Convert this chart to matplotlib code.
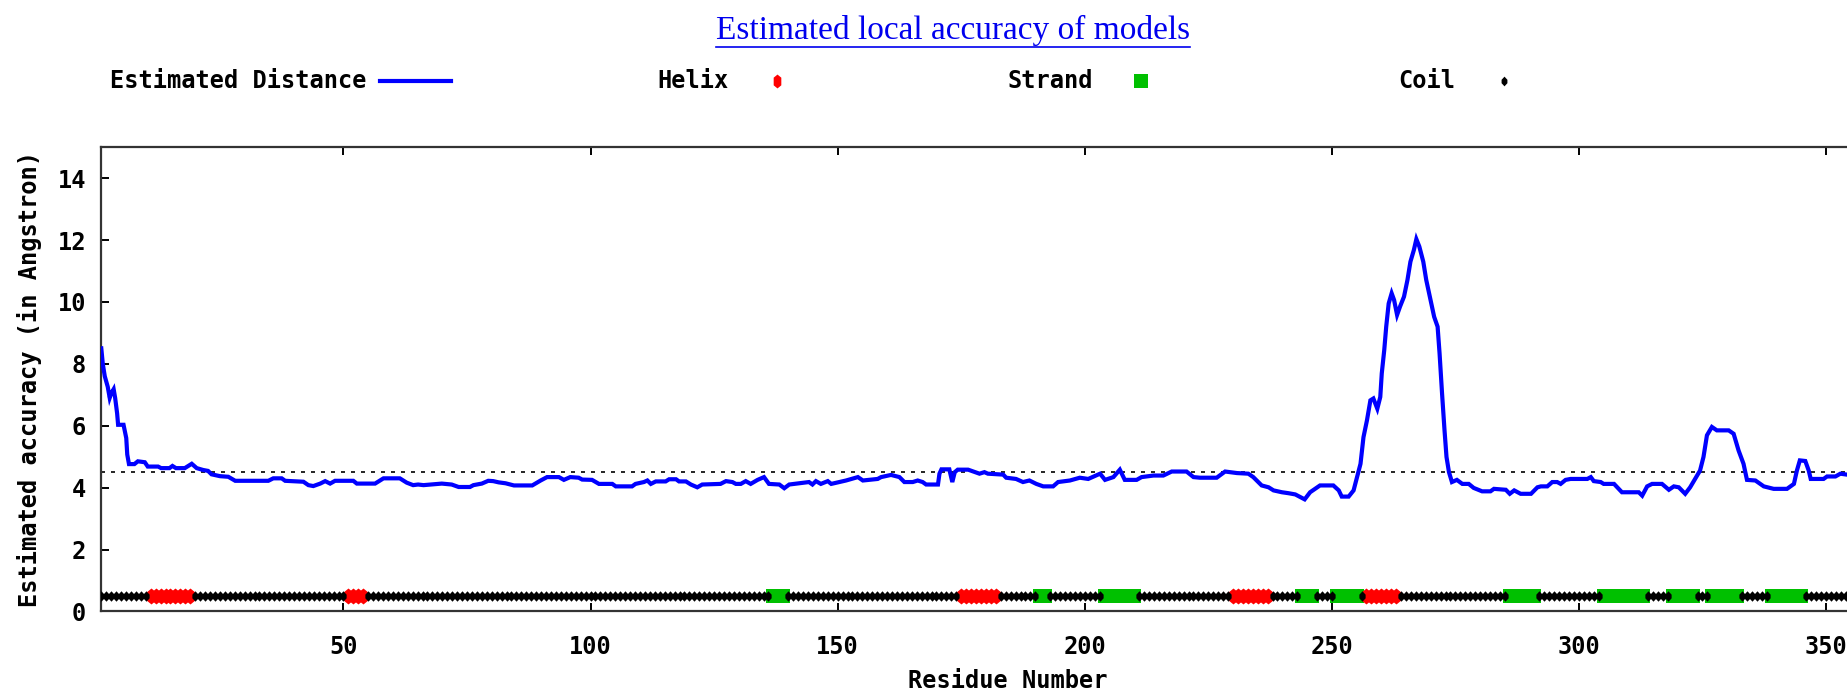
import numpy as np
import matplotlib.pyplot as plt
from matplotlib.path import Path

# estimated distance per residue
residue = [1, 1.3, 1.7, 2.3, 2.7, 3.0, 3.5, 3.8, 4.2, 4.4, 5.5, 6.05, 6.25, 6.6, 7.7, 8.4, 9.8, 10.4,
           12.5, 13.1, 14.8, 15.4, 16.1, 17.9, 19.3, 20.3, 21.6, 22.6, 23.3, 25, 26.7, 28.1, 34.8,
           35.8, 37.5, 38.2, 41.9, 42.9, 43.9, 45.3, 46.3, 47.3, 48.3, 52, 52.7, 56.4, 58.1, 61.4,
           62.8, 64.1, 65.1, 66.2, 69.9, 71.9, 73.3, 75.6, 76.3, 78, 79.3, 80.3, 81.4, 82.8, 84.5,
           88.2, 89.9, 91.2, 93.6, 94.6, 95.9, 97.6, 98.3, 100.3, 101.7, 104.4, 105.1, 108.4, 109.1,
           110.8, 111.5, 112.2, 113.2, 115.2, 115.9, 117.3, 117.9, 119.3, 120.3, 121.6, 122.6, 126.3,
           127.4, 128.7, 129.4, 130.4, 131.4, 132.4, 133.8, 135.1, 136.1, 138.2, 139.2, 140.2, 144.2,
           144.9, 145.6, 146.6, 148, 148.7, 151.7, 154.1, 155.1, 158.1, 158.8, 160.8, 162.5, 163.5,
           165.2, 166.2, 167.2, 167.9, 170.3, 170.6, 171, 172.6, 173.2, 173.7, 174.3, 176.4, 178.7,
           179.7, 180.4, 183.5, 184.1, 186.1, 187.5, 188.8, 190.2, 191.6, 193.6, 194.6, 197, 199,
           200.7, 203.1, 204.1, 205.8, 207.1, 208.1, 210.5, 211.5, 213.9, 215.9, 217.6, 220.6, 222,
           223.3, 226.7, 228.4, 230.8, 233.1, 234.1, 235.8, 237.2, 238.2, 239.9, 241.2, 242.6, 244.5,
           245.6, 246.6, 247.6, 250.3, 251.4, 252, 253.4, 254.4, 255.1, 255.8, 256.4, 257.1, 257.8,
           258.4, 259.2, 259.8, 260.1, 260.6, 261, 261.5, 262.1, 262.6, 263.2, 263.8, 264.6, 265.3,
           265.9, 266.6, 267.1, 267.7, 268.5, 269.1, 269.9, 270.7, 271.4, 271.8, 272.3, 272.8, 273.2,
           273.7, 274.3, 275.3, 276.4, 277.7, 278.7, 280.4, 282.1, 282.8, 285.2, 286, 286.9, 288.2,
           290.3, 291.6, 292.3, 293.6, 294.6, 295.6, 296.3, 297.3, 298.3, 301.7, 302.4, 303, 304.4,
           305, 307.1, 308.7, 309.7, 312.1, 312.8, 313.8, 314.8, 316.8, 318.2, 319.2, 320.2, 321.5,
           322.5, 323.5, 324.5, 325.2, 325.9, 326.9, 327.9, 330.3, 331.3, 332.3, 333.3, 334, 335.7,
           337.4, 339.4, 342.1, 343.5, 344.1, 344.7, 345.8, 346.5, 346.9, 349.5, 350.2, 351.9, 352.9,
           354.2, 356]
distance = [8.5, 8.0, 7.6, 7.26, 6.9, 7.04, 7.18, 6.9, 6.4, 6.03, 6.03, 5.6, 5.07, 4.76, 4.76, 4.85, 4.82, 4.68,
            4.68, 4.63, 4.63, 4.7, 4.63, 4.63, 4.77, 4.63, 4.57, 4.54, 4.43, 4.37, 4.35, 4.22, 4.22,
            4.3, 4.3, 4.22, 4.19, 4.08, 4.05, 4.13, 4.21, 4.13, 4.22, 4.22, 4.13, 4.13, 4.3, 4.3,
            4.16, 4.08, 4.1, 4.08, 4.13, 4.1, 4.02, 4.02, 4.08, 4.13, 4.22, 4.21, 4.17, 4.14, 4.07,
            4.07, 4.23, 4.34, 4.34, 4.25, 4.34, 4.32, 4.26, 4.25, 4.12, 4.12, 4.04, 4.04, 4.12,
            4.18, 4.23, 4.12, 4.2, 4.2, 4.27, 4.27, 4.2, 4.2, 4.1, 4.01, 4.1, 4.12,
            4.21, 4.18, 4.12, 4.12, 4.21, 4.12, 4.25, 4.34, 4.12, 4.1, 3.98, 4.1, 4.18,
            4.1, 4.21, 4.12, 4.21, 4.12, 4.23, 4.34, 4.23, 4.28, 4.34, 4.41, 4.34, 4.18,
            4.18, 4.23, 4.18, 4.1, 4.1, 4.45, 4.59, 4.59, 4.18, 4.5, 4.58, 4.58, 4.45,
            4.5, 4.45, 4.42, 4.32, 4.28, 4.18, 4.23, 4.12, 4.04, 4.04, 4.18, 4.23, 4.32,
            4.28, 4.45, 4.25, 4.34, 4.58, 4.25, 4.25, 4.34, 4.39, 4.39, 4.52, 4.52, 4.34,
            4.32, 4.32, 4.52, 4.47, 4.45, 4.34, 4.07, 4.01, 3.91, 3.85, 3.82, 3.78, 3.62,
            3.85, 3.96, 4.07, 4.07, 3.91, 3.71, 3.71, 3.91, 4.34, 4.77, 5.63, 6.17, 6.82,
            6.88, 6.55, 6.93, 7.69, 8.44, 9.2, 9.95, 10.28, 10.06, 9.58, 9.85, 10.17, 10.71,
            11.3, 11.68, 12.03, 11.79, 11.3, 10.71, 10.12, 9.52, 9.2, 8.33, 7.04, 5.85, 4.99,
            4.5, 4.18, 4.25, 4.12, 4.12, 3.99, 3.88, 3.88, 3.96, 3.93, 3.8, 3.91, 3.8,
            3.8, 4.01, 4.04, 4.04, 4.18, 4.18, 4.12, 4.25, 4.28, 4.28, 4.34, 4.21, 4.18,
            4.12, 4.12, 3.85, 3.85, 3.85, 3.74, 4.04, 4.12, 4.12, 3.93, 4.04, 4.01, 3.8,
            4.01, 4.28, 4.55, 4.99, 5.69, 5.96, 5.85, 5.85, 5.74, 5.2, 4.77, 4.25, 4.23,
            4.04, 3.96, 3.96, 4.12, 4.55, 4.88, 4.86, 4.55, 4.28, 4.28, 4.36, 4.36, 4.45,
            4.42, 4.42]
cutoff = 4.5

# secondary structure (residue ranges)
n_residues = 356
helix_ranges = [(11, 19), (51, 54), (175, 182), (230, 237), (257, 263)]
strand_ranges = [(137, 139), (191, 192), (204, 210), (244, 246), (251, 255),
                 (286, 291), (305, 313), (319, 323), (327, 332), (339, 345)]

ss = np.array(["C"] * n_residues)
for a, b in helix_ranges:
    ss[a - 1:b] = "H"
for a, b in strand_ranges:
    ss[a - 1:b] = "E"
pos = np.arange(1, n_residues + 1)

# gnuplot-like point shapes
hexa = Path([(0, 1), (0.55, 0.55), (0.55, -0.55), (0, -1), (-0.55, -0.55), (-0.55, 0.55), (0, 1)],
            closed=True)
coil_pt = Path([(0, 1), (0.6, 0.35), (0.6, -0.35), (0, -1), (-0.6, -0.35), (-0.6, 0.35), (0, 1)],
               closed=True)

font = "DejaVu Sans Mono"
fs = 17

fig = plt.figure(figsize=(18.47, 6.91), dpi=100)
W, H = 1847, 691
left, right, top, bottom = 101.3, 1915, 147.2, 611.4
ax = fig.add_axes([left / W, (H - bottom) / H, (right - left) / W, (bottom - top) / H])

ax.plot(residue, distance, color="#0000FF", lw=3.0, zorder=3, solid_joinstyle="miter")
ax.axhline(cutoff, color="black", lw=1.2, ls=(0, (2.4, 3.6)), zorder=2)

y_ss = 0.5
ax.plot(pos[ss == "E"], np.full((ss == "E").sum(), y_ss), ls="none", marker="s", ms=10,
        color="#00C000", mew=0, zorder=4)
ax.plot(pos[ss == "H"], np.full((ss == "H").sum(), y_ss), ls="none", marker=hexa, ms=11.5,
        color="#FF0000", mew=0, zorder=4)
ax.plot(pos[ss == "C"], np.full((ss == "C").sum(), y_ss), ls="none", marker=coil_pt, ms=7.5,
        color="black", mew=0, zorder=5)

ax.set_xlim(1, 368)
ax.set_ylim(0, 15)
ax.set_xticks(range(50, 351, 50))
ax.set_yticks(range(0, 15, 2))
ax.tick_params(direction="in", length=6, width=1.4, top=True, right=True, colors="black")
ax.tick_params(axis="x", pad=17)
ax.tick_params(axis="y", pad=11)
for lab in ax.get_xticklabels() + ax.get_yticklabels():
    lab.set_fontfamily(font)
    lab.set_fontweight("bold")
    lab.set_fontsize(fs)
for sp in ax.spines.values():
    sp.set_linewidth(1.6)
    sp.set_color("#333333")

ax.set_xlabel("Residue Number", fontfamily=font, fontweight="bold", fontsize=fs, labelpad=7)
ax.set_ylabel("Estimated accuracy (in Angstron)", fontfamily=font, fontweight="bold",
              fontsize=fs, labelpad=11)

# overlay in pixel coordinates for title and key
lg = fig.add_axes([0, 0, 1, 1])
lg.set_xlim(0, W)
lg.set_ylim(H, 0)
lg.axis("off")

title = lg.text(953, 30, "Estimated local accuracy of models", fontfamily="Liberation Serif",
                fontsize=24, color="#0000EE", ha="center", va="center")
fig.canvas.draw()
bb = title.get_window_extent()
lg.plot([bb.x0, bb.x1], [47, 47], color="#0000EE", lw=1.2)

ky = 81
kw = dict(fontfamily=font, fontweight="bold", fontsize=fs, ha="right", va="center")
lg.text(367, ky, "Estimated Distance", **kw)
lg.plot([380, 451], [ky, ky], color="#0000FF", lw=3.0)
lg.text(729, ky, "Helix", **kw)
lg.plot([777], [ky], marker=hexa, ms=10, color="#FF0000", mew=0)
lg.text(1093, ky, "Strand", **kw)
lg.plot([1141], [ky], marker="s", ms=10, color="#00C000", mew=0)
lg.text(1455, ky, "Coil", **kw)
lg.plot([1504], [ky], marker=coil_pt, ms=7, color="black", mew=0)

plt.savefig("out.png", dpi=100)
